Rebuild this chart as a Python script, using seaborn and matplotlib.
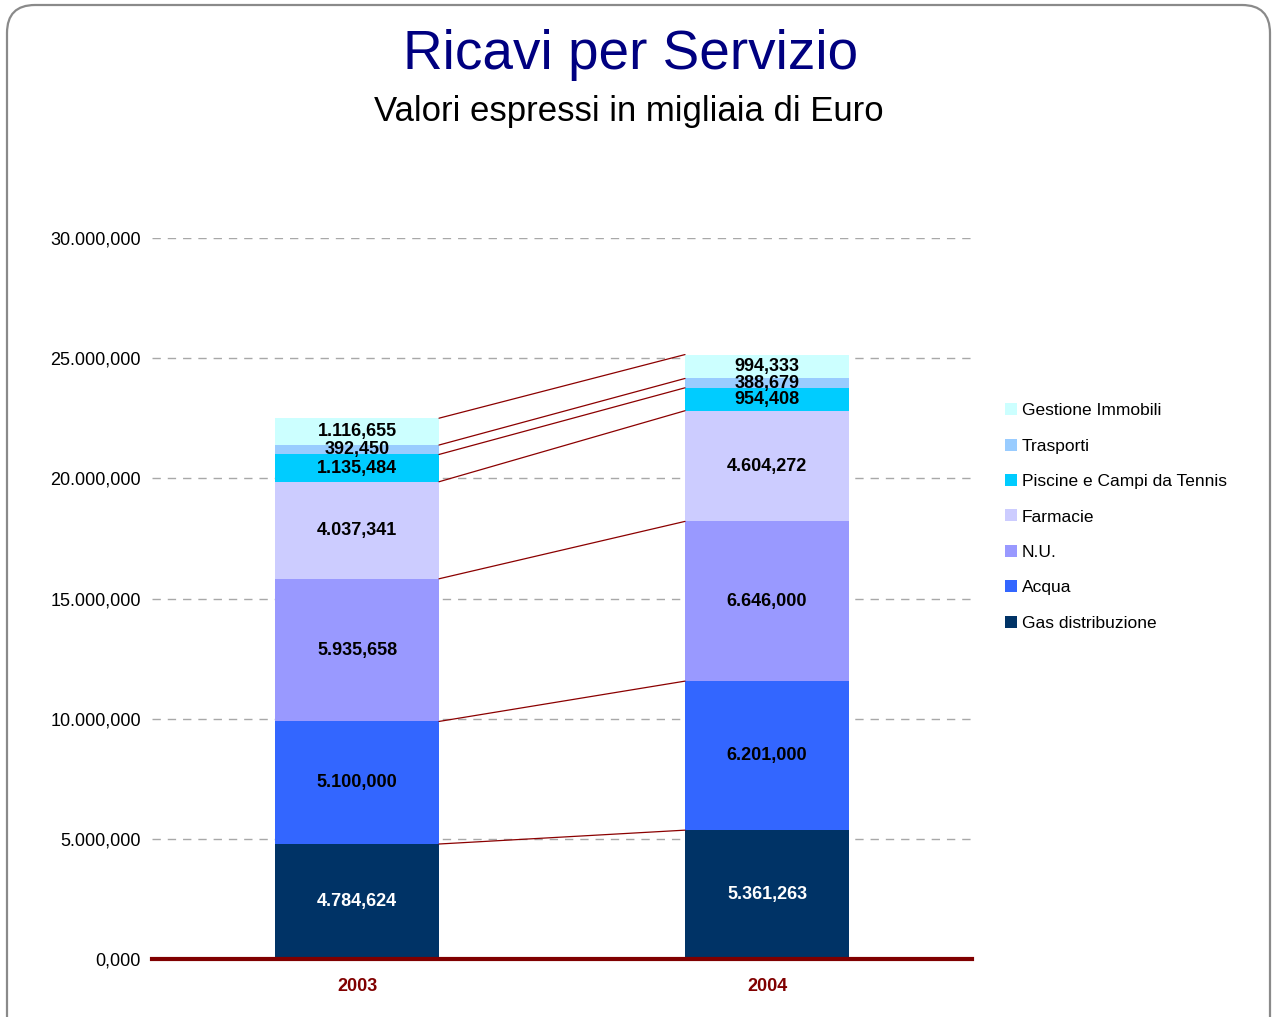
"""
Ricavi per Servizio: stacked bars 2003 vs 2004 with connector lines between segment tops.
"""

import numpy as np
import pandas as pd
import matplotlib
matplotlib.use("Agg")
import matplotlib.pyplot as plt
import seaborn as sns
from matplotlib.lines import Line2D
from matplotlib.patches import FancyBboxPatch
from matplotlib.transforms import IdentityTransform

years = ["2003", "2004"]
services = ["Gas distribuzione", "Acqua", "N.U.", "Farmacie",
            "Piscine e Campi da Tennis", "Trasporti", "Gestione Immobili"]
gas = [4784624, 5361263]
acqua = [5100000, 6201000]
nu = [5935658, 6646000]
farmacie = [4037341, 4604272]
piscine = [1135484, 954408]
trasporti = [392450, 388679]
immobili = [1116655, 994333]
colors = ["#003366", "#3366FF", "#9999FF", "#CCCCFF", "#00CCFF", "#99CCFF", "#CCFFFF"]
label_colors = ["white", "black", "black", "black", "black", "black", "black"]
y_ticks = [0, 5000000, 10000000, 15000000, 20000000, 25000000, 30000000]


def fmt(v):
    # weird italian-ish format from the source: 4.784,624 / 392,450 / 0,000
    v = int(round(v))
    mil, rest = divmod(v, 1000000)
    th, un = divmod(rest, 1000)
    if mil:
        return f"{mil}.{th:03d},{un:03d}"
    return f"{th},{un:03d}"


sns.set_style("white")
plt.rcParams["font.family"] = ["Liberation Sans", "DejaVu Sans"]
plt.rcParams["text.color"] = "black"

fig = plt.figure(figsize=(12.73, 10.17), dpi=100)
ax = fig.add_axes([152 / 1273, 58 / 1017, 820 / 1273, 721 / 1017])

series = [gas, acqua, nu, farmacie, piscine, trasporti, immobili]
df = pd.DataFrame({"year": years})
bottom = np.zeros(len(years))
tops = []
for name, vals, col, lc in zip(services, series, colors, label_colors):
    vals = np.array(vals, dtype=float)
    sns.barplot(x=df["year"], y=vals, bottom=bottom, color=col, width=0.4,
                errorbar=None, saturation=1, linewidth=0, ax=ax, zorder=3)
    for i, v in enumerate(vals):
        ax.text(i, bottom[i] + v / 2, fmt(v), ha="center", va="center",
                fontsize=13, fontweight="bold", color=lc, zorder=5)
    bottom = bottom + vals
    tops.append(bottom.copy())

# connector lines between cumulative tops
for t in tops:
    ax.plot([0.2, 0.8], [t[0], t[1]], color="#8B0000", lw=0.9, zorder=4)

ax.set_xlim(-0.5, 1.5)
ax.set_ylim(0, 30000000)
ax.set_yticks(y_ticks)
ax.set_yticklabels([fmt(v) for v in y_ticks], fontsize=13, color="black")
ax.set_xlabel("")
ax.set_ylabel("")
ax.tick_params(axis="y", length=0, pad=8)
ax.tick_params(axis="x", length=0, pad=14)
for lab in ax.get_xticklabels():
    lab.set_fontsize(13)
    lab.set_fontweight("bold")
    lab.set_color("#800000")

ax.grid(False)
for y in y_ticks[1:]:
    ax.axhline(y, color="#a8a8a8", lw=1, ls=(0, (6, 5)), zorder=1)

for s in ["top", "right", "left"]:
    ax.spines[s].set_visible(False)
ax.spines["bottom"].set_color("#800000")
ax.spines["bottom"].set_linewidth(3)
ax.spines["bottom"].set_zorder(6)

# legend, top entry first
handles = [Line2D([], [], marker="s", ls="", markersize=8.5, color=c, markeredgewidth=0)
           for c in colors[::-1]]
fig.legend(handles, services[::-1], loc="upper left",
           bbox_to_anchor=(1003 / 1273, 1 - 403 / 1017), frameon=False,
           fontsize=12.5, handlelength=0.9, handletextpad=0.2,
           labelspacing=1.17, borderpad=0, borderaxespad=0, labelcolor="black")

fig.text(631 / 1273, 1 - 55 / 1017, "Ricavi per Servizio", ha="center", va="center",
         fontsize=39.5, color="#000080")
fig.text(629 / 1273, 1 - 111 / 1017, "Valori espressi in migliaia di Euro",
         ha="center", va="center", fontsize=25, color="black")

# rounded slide frame
frame = FancyBboxPatch((7, -30), 1263, 1042, boxstyle="round,pad=0,rounding_size=28",
                       transform=IdentityTransform(), fill=False,
                       edgecolor="#8a8a8a", lw=1.6)
fig.patches.append(frame)

fig.savefig("out.png", dpi=100)
